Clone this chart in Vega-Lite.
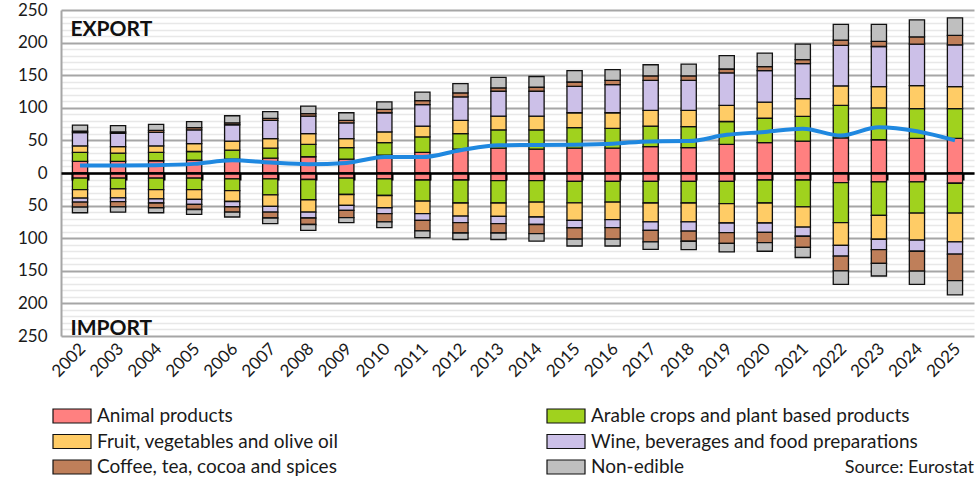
{
  "$schema": "https://vega.github.io/schema/vega-lite/v6.json",
  "width": 913,
  "height": 326,
  "autosize": {"type": "none"},
  "padding": {"left": 61, "top": 10, "right": 5, "bottom": 143},
  "background": "white",
  "config": {
    "font": "Lato",
    "view": {"stroke": null},
    "axis": {"labelFont": "Lato", "labelColor": "#1a1a1a"}
  },
  "title": {
    "text": "Source: Eurostat",
    "orient": "bottom",
    "anchor": "end",
    "frame": "group",
    "font": "Lato",
    "fontSize": 18,
    "fontWeight": "normal",
    "color": "#1a1a1a",
    "offset": -18
  },
  "datasets": {
    "trade": [
      {"year": 2002, "flow": "export", "a": 17.8, "b": 13.7, "c": 10.1, "d": 20.4, "e": 2.0, "f": 9.5},
      {"year": 2003, "flow": "export", "a": 17.8, "b": 12.7, "c": 10.1, "d": 20.4, "e": 2.0, "f": 9.6},
      {"year": 2004, "flow": "export", "a": 18.8, "b": 12.7, "c": 10.1, "d": 20.8, "e": 3.1, "f": 9.1},
      {"year": 2005, "flow": "export", "a": 19.8, "b": 13.2, "c": 12.0, "d": 21.0, "e": 3.5, "f": 9.2},
      {"year": 2006, "flow": "export", "a": 21.3, "b": 13.7, "c": 14.0, "d": 25.0, "e": 3.0, "f": 10.8},
      {"year": 2007, "flow": "export", "a": 22.8, "b": 15.2, "c": 14.8, "d": 27.9, "e": 3.1, "f": 10.2},
      {"year": 2008, "flow": "export", "a": 24.9, "b": 19.1, "c": 16.4, "d": 26.9, "e": 3.7, "f": 11.5},
      {"year": 2009, "flow": "export", "a": 21.3, "b": 17.7, "c": 13.8, "d": 24.2, "e": 3.7, "f": 11.7},
      {"year": 2010, "flow": "export", "a": 27.4, "b": 19.3, "c": 16.3, "d": 29.4, "e": 5.1, "f": 11.5},
      {"year": 2011, "flow": "export", "a": 31.5, "b": 23.8, "c": 16.7, "d": 33.0, "e": 6.0, "f": 12.9},
      {"year": 2012, "flow": "export", "a": 36.5, "b": 23.9, "c": 20.3, "d": 36.1, "e": 6.0, "f": 14.2},
      {"year": 2013, "flow": "export", "a": 38.0, "b": 28.0, "c": 21.3, "d": 38.1, "e": 5.1, "f": 16.2},
      {"year": 2014, "flow": "export", "a": 36.5, "b": 29.5, "c": 21.3, "d": 38.1, "e": 6.1, "f": 16.5},
      {"year": 2015, "flow": "export", "a": 38.0, "b": 31.5, "c": 22.9, "d": 40.6, "e": 6.6, "f": 17.3},
      {"year": 2016, "flow": "export", "a": 38.0, "b": 30.5, "c": 23.9, "d": 43.1, "e": 6.5, "f": 16.4},
      {"year": 2017, "flow": "export", "a": 40.6, "b": 31.4, "c": 24.0, "d": 46.0, "e": 7.0, "f": 17.0},
      {"year": 2018, "flow": "export", "a": 39.0, "b": 32.0, "c": 25.0, "d": 46.0, "e": 7.0, "f": 18.0},
      {"year": 2019, "flow": "export", "a": 44.0, "b": 35.0, "c": 24.7, "d": 49.8, "e": 6.0, "f": 20.5},
      {"year": 2020, "flow": "export", "a": 46.7, "b": 37.3, "c": 24.7, "d": 48.3, "e": 6.0, "f": 21.0},
      {"year": 2021, "flow": "export", "a": 49.0, "b": 38.0, "c": 27.0, "d": 53.7, "e": 6.3, "f": 23.7},
      {"year": 2022, "flow": "export", "a": 54.0, "b": 49.7, "c": 29.9, "d": 62.0, "e": 8.2, "f": 24.2},
      {"year": 2023, "flow": "export", "a": 51.0, "b": 49.0, "c": 32.6, "d": 61.4, "e": 8.0, "f": 26.0},
      {"year": 2024, "flow": "export", "a": 53.0, "b": 45.6, "c": 35.4, "d": 63.7, "e": 11.1, "f": 26.0},
      {"year": 2025, "flow": "export", "a": 53.0, "b": 45.6, "c": 34.0, "d": 64.0, "e": 14.4, "f": 27.0},
      {"year": 2002, "flow": "import", "a": -8.0, "b": -17.4, "c": -13.2, "d": -6.1, "e": -7.6, "f": -8.7},
      {"year": 2003, "flow": "import", "a": -8.0, "b": -16.4, "c": -13.6, "d": -6.0, "e": -8.0, "f": -8.0},
      {"year": 2004, "flow": "import", "a": -8.0, "b": -17.4, "c": -14.2, "d": -6.4, "e": -7.3, "f": -7.7},
      {"year": 2005, "flow": "import", "a": -8.0, "b": -17.4, "c": -15.2, "d": -7.4, "e": -8.0, "f": -7.5},
      {"year": 2006, "flow": "import", "a": -9.0, "b": -18.0, "c": -16.7, "d": -8.1, "e": -8.2, "f": -7.5},
      {"year": 2007, "flow": "import", "a": -9.0, "b": -24.5, "c": -17.8, "d": -8.7, "e": -9.0, "f": -8.7},
      {"year": 2008, "flow": "import", "a": -10.0, "b": -31.0, "c": -19.0, "d": -9.0, "e": -10.0, "f": -9.0},
      {"year": 2009, "flow": "import", "a": -8.0, "b": -25.0, "c": -16.7, "d": -7.7, "e": -11.1, "f": -7.5},
      {"year": 2010, "flow": "import", "a": -9.0, "b": -25.5, "c": -18.8, "d": -9.1, "e": -12.6, "f": -8.8},
      {"year": 2011, "flow": "import", "a": -10.7, "b": -32.3, "c": -19.4, "d": -10.2, "e": -16.2, "f": -10.2},
      {"year": 2012, "flow": "import", "a": -10.7, "b": -35.3, "c": -20.0, "d": -10.0, "e": -16.0, "f": -10.0},
      {"year": 2013, "flow": "import", "a": -11.7, "b": -34.3, "c": -20.5, "d": -11.2, "e": -14.3, "f": -10.0},
      {"year": 2014, "flow": "import", "a": -11.7, "b": -33.0, "c": -22.8, "d": -11.5, "e": -14.0, "f": -11.6},
      {"year": 2015, "flow": "import", "a": -12.7, "b": -33.0, "c": -26.9, "d": -11.4, "e": -17.5, "f": -10.5},
      {"year": 2016, "flow": "import", "a": -12.7, "b": -32.0, "c": -26.9, "d": -12.2, "e": -17.7, "f": -10.5},
      {"year": 2017, "flow": "import", "a": -12.7, "b": -33.3, "c": -29.0, "d": -13.0, "e": -17.6, "f": -11.4},
      {"year": 2018, "flow": "import", "a": -12.7, "b": -33.3, "c": -29.0, "d": -14.0, "e": -15.7, "f": -12.7},
      {"year": 2019, "flow": "import", "a": -12.7, "b": -34.3, "c": -29.7, "d": -14.8, "e": -16.5, "f": -13.0},
      {"year": 2020, "flow": "import", "a": -10.7, "b": -35.3, "c": -30.7, "d": -14.3, "e": -15.7, "f": -13.3},
      {"year": 2021, "flow": "import", "a": -10.7, "b": -41.3, "c": -31.0, "d": -14.0, "e": -17.0, "f": -15.6},
      {"year": 2022, "flow": "import", "a": -14.7, "b": -61.3, "c": -35.0, "d": -16.5, "e": -22.5, "f": -20.7},
      {"year": 2023, "flow": "import", "a": -13.7, "b": -51.3, "c": -36.6, "d": -15.8, "e": -21.3, "f": -19.3},
      {"year": 2024, "flow": "import", "a": -13.7, "b": -47.8, "c": -41.5, "d": -17.0, "e": -30.4, "f": -20.3},
      {"year": 2025, "flow": "import", "a": -15.7, "b": -45.8, "c": -44.2, "d": -18.8, "e": -40.5, "f": -22.0}
    ],
    "balance": [
      {"year": 2002, "bal": 11.5}, {"year": 2003, "bal": 11.5}, {"year": 2004, "bal": 12.0},
      {"year": 2005, "bal": 14.0}, {"year": 2006, "bal": 19.5}, {"year": 2007, "bal": 16.0},
      {"year": 2008, "bal": 13.5}, {"year": 2009, "bal": 15.5}, {"year": 2010, "bal": 24.5},
      {"year": 2011, "bal": 24.5}, {"year": 2012, "bal": 35.0}, {"year": 2013, "bal": 42.5},
      {"year": 2014, "bal": 43.0}, {"year": 2015, "bal": 43.5}, {"year": 2016, "bal": 45.0},
      {"year": 2017, "bal": 48.5}, {"year": 2018, "bal": 49.0}, {"year": 2019, "bal": 58.5},
      {"year": 2020, "bal": 63.0}, {"year": 2021, "bal": 68.0}, {"year": 2022, "bal": 57.5},
      {"year": 2023, "bal": 70.0}, {"year": 2024, "bal": 64.0}, {"year": 2025, "bal": 50.0}
    ],
    "labels": [
      {"year": 2002, "lbl": "EXPORT", "pos": 220},
      {"year": 2002, "lbl": "IMPORT", "pos": -240}
    ]
  },
  "resolve": {"axis": {"x": "independent", "y": "independent"}},
  "layer": [
    {
      "data": {"name": "trade"},
      "transform": [{"fold": ["a", "b", "c", "d", "e", "f"], "as": ["cat", "v"]}],
      "mark": {"type": "bar", "stroke": "#111111", "strokeWidth": 1.3},
      "encoding": {
        "x": {
          "field": "year", "type": "ordinal",
          "scale": {"paddingInner": 0.6, "paddingOuter": 0.3},
          "axis": {"title": null, "orient": "bottom", "domain": false, "ticks": false, "grid": false,
                   "labelAngle": -45, "labelAlign": "right", "labelBaseline": "middle",
                   "labelFontSize": 17, "labelPadding": 10, "labelOffset": 3}
        },
        "y": {
          "field": "v", "type": "quantitative", "stack": "zero",
          "scale": {"domain": [-250, 250], "nice": false},
          "axis": {
            "title": null,
            "values": [-250,-240,-230,-220,-210,-200,-190,-180,-170,-160,-150,-140,-130,-120,-110,-100,-90,-80,-70,-60,-50,-40,-30,-20,-10,0,10,20,30,40,50,60,70,80,90,100,110,120,130,140,150,160,170,180,190,200,210,220,230,240,250],
            "labelExpr": "datum.value % 50 === 0 ? '' + abs(datum.value) : ''",
            "labelOverlap": false, "labelFlush": false,
            "labelFontSize": 17, "labelPadding": 14,
            "ticks": false,
            "domain": true, "domainColor": "#a6a6a6", "domainWidth": 2,
            "grid": true,
            "gridColor": {"condition": {"test": "datum.value % 50 === 0", "value": "#a6a6a6"}, "value": "#e8e8e8"},
            "gridWidth": {"condition": {"test": "datum.value % 50 === 0", "value": 2}, "value": 1.5}
          }
        },
        "order": {"field": "cat", "type": "nominal", "sort": "ascending"},
        "color": {
          "field": "cat", "type": "nominal",
          "scale": {"domain": ["a", "b", "c", "d", "e", "f"],
                    "range": ["#ff8080", "#a0d21e", "#ffcc66", "#ccc0e8", "#bf7f5a", "#bfbfbf"]},
          "legend": {
            "title": null, "orient": "none", "legendX": 0, "legendY": 395,
            "columns": 2, "direction": "horizontal",
            "symbolType": "M-1.9,-0.7H1.9V0.7H-1.9Z", "symbolSize": 400,
            "symbolStrokeColor": "#111111", "symbolStrokeWidth": 1.2,
            "labelFont": "Lato", "labelFontSize": 19, "labelColor": "#1a1a1a",
            "labelOffset": 14, "rowPadding": 4.5, "columnPadding": 205, "labelLimit": 0,
            "labelExpr": "{'a': 'Animal products', 'b': 'Arable crops and plant based products', 'c': 'Fruit, vegetables and olive oil', 'd': 'Wine, beverages and food preparations', 'e': 'Coffee, tea, cocoa and spices', 'f': 'Non-edible'}[datum.label]"
          }
        }
      }
    },
    {
      "data": {"name": "balance"},
      "mark": {"type": "line", "color": "#1f88e0", "strokeWidth": 4, "interpolate": "monotone"},
      "encoding": {
        "x": {
          "field": "year", "type": "ordinal",
          "axis": {"title": null, "orient": "bottom", "offset": -163, "labels": false,
                   "domain": true, "domainColor": "#000000", "domainWidth": 2.5,
                   "ticks": true, "tickColor": "#000000", "tickWidth": 2, "tickSize": 7,
                   "tickBand": "extent", "grid": false, "zindex": 1}
        },
        "y": {"field": "bal", "type": "quantitative", "axis": null}
      }
    },
    {
      "data": {"name": "labels"},
      "mark": {"type": "text", "align": "left", "baseline": "middle", "font": "Lato",
               "fontSize": 21, "fontWeight": "bold", "color": "#111111", "dx": -2},
      "encoding": {
        "x": {"field": "year", "type": "ordinal", "bandPosition": 0, "axis": null},
        "y": {"field": "pos", "type": "quantitative", "axis": null},
        "text": {"field": "lbl"}
      }
    }
  ]
}
